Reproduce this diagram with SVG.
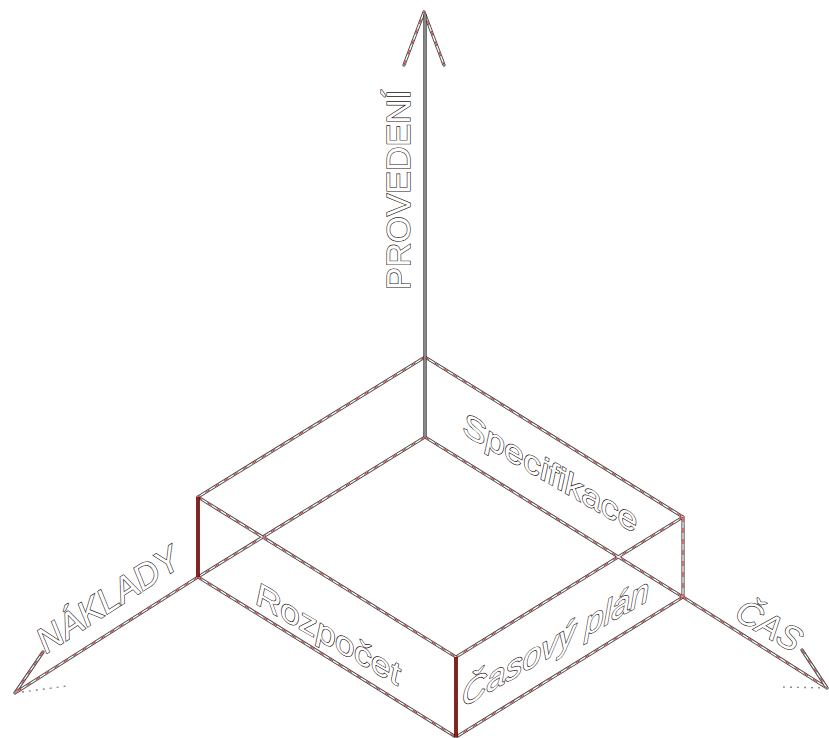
<svg xmlns="http://www.w3.org/2000/svg" xmlns:xlink="http://www.w3.org/1999/xlink" width="829" height="738" viewBox="0 0 829 738">
<style>
.o{fill:none;stroke:#4a4a4a;stroke-width:3.2;stroke-linecap:round;stroke-linejoin:round}
.i{fill:none;stroke:#ffffff;stroke-width:1.3;stroke-linecap:round;stroke-linejoin:round}
.r{fill:none;stroke:#d41010;stroke-width:0.9;stroke-dasharray:5 6}
.faint{fill:none;stroke:#8a8a8a;stroke-width:1.4;stroke-dasharray:2 5}
.vg{fill:none;stroke:#3a3a3a;stroke-width:3.4}
.vgi{fill:none;stroke:#a8a8a8;stroke-width:1.4}
.vr{fill:none;stroke:#2a1010;stroke-width:3.6}
.vri{fill:none;stroke:#d41010;stroke-width:1.6}
.t{font-family:"Liberation Sans",Arial,sans-serif;font-size:34px;fill:#ffffff;stroke:#1e1212;stroke-width:1.2;paint-order:stroke}
.it{font-style:italic}
</style>
<defs>
<path id="edges" d="M425,357 L198,497 M425,357 L683,517 M198,497 L456,657 M683,517 L456,657 M425,437 L198,577 M425,437 L683,597 M198,577 L456,737 M683,597 L456,737 M198,577 L15,693 M683,597 L827,688 M43,652 L15,693 M802,650 L827,688 M404,65 L424,12 L444,65 M683,517 L683,597"/>
</defs>
<g id="connectors">
<use xlink:href="#edges" class="o"/>
<use xlink:href="#edges" class="i"/>
<use xlink:href="#edges" class="r"/>
<path class="faint" d="M15,693 L67,686 M827,688 L780,687"/>
<path class="vg" d="M425,357 V14 M425,357 V437"/>
<path class="vgi" d="M425,357 V14 M425,357 V437"/>
<path class="vr" d="M198,497 V577 M456,657 V737"/>
<path class="vri" d="M198,497 V577 M456,657 V737"/>
</g>
<g id="axis-provedeni">
<text class="t" transform="translate(410,290) rotate(-90)">PROVEDENÍ</text>
</g>
<g id="axis-naklady">
<text class="t it" transform="translate(46,654) rotate(-33)" style="font-size:35px">NÁKLADY</text>
</g>
<g id="axis-cas">
<text class="t it" transform="translate(733,618) rotate(30)">ČAS</text>
</g>
<g id="face-specifikace">
<text class="t it" transform="translate(463,434) skewY(30)">Specifikace</text>
</g>
<g id="face-rozpocet">
<text class="t it" transform="translate(256,604) skewY(30)">Rozpočet</text>
</g>
<g id="face-casovy-plan">
<text class="t it" transform="translate(462,708) skewY(-30)">Časový plán</text>
</g>
</svg>
